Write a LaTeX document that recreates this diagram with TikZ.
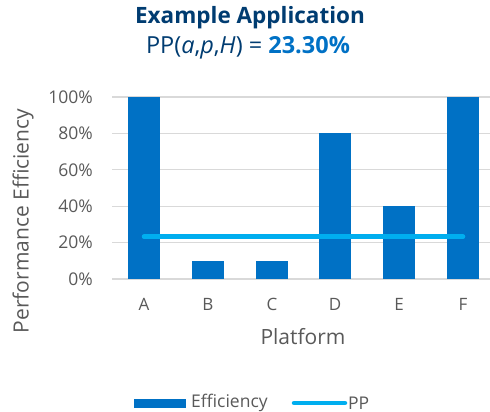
\documentclass[tikz,border=0pt]{standalone}
\usepackage{fontspec}
\setmainfont{Open Sans}
\definecolor{barblue}{HTML}{0071C5}
\definecolor{ppblue}{HTML}{00AEEF}
\definecolor{titleblue}{HTML}{003C71}
\definecolor{gridgrey}{HTML}{D9D9D9}
\definecolor{txtgrey}{HTML}{595959}
\tikzset{
  bar/.style={fill=barblue, draw=none},
  grid line/.style={draw=gridgrey, line width=1.2pt},
  tick label/.style={anchor=east, text=txtgrey, font=\fontsize{17.5}{20}\selectfont, inner sep=0pt},
  cat label/.style={anchor=center, text=txtgrey, font=\fontsize{17}{20}\selectfont, inner sep=0pt},
  axis title/.style={text=txtgrey, font=\fontsize{21}{24}\selectfont, inner sep=0pt},
  pp line/.style={draw=ppblue, line width=4.5pt, line cap=round},
  legend text/.style={anchor=west, text=txtgrey, font=\fontsize{17.5}{20}\selectfont, inner sep=0pt}
}
\begin{document}
\begin{tikzpicture}[x=1pt,y=-1pt]
\useasboundingbox (0,0) rectangle (490,412);
% title
\node[text=titleblue, font=\fontsize{22.5}{26}\selectfont\bfseries, inner sep=0pt] (t1) at (250,18) {Example Application};
\node[text=titleblue, font=\fontsize{23.5}{27}\selectfont, inner sep=0pt] (t2) at (248,48) {PP(\textit{a},\textit{p},\textit{H}) = \textcolor{barblue}{\bfseries 23.30\%}};
% gridlines and tick labels
\foreach \v/\lab in {0/0\%,20/20\%,40/40\%,60/60\%,80/80\%,100/100\%}{
  \coordinate (gl\v) at (112,{279-1.82*\v});
  \coordinate (gr\v) at (490,{279-1.82*\v});
  \draw[grid line] (gl\v) -- (gr\v);
  \node[tick label] (tl\v) at (93,{279-1.82*\v}) {\lab};
}
% bars
\foreach \n/\c/\v in {A/144/100,B/208/10,C/272/10,D/335/80,E/399/40,F/463/100}{
  \fill[bar] ({\c-16},279) rectangle ({\c+16},{279-1.82*\v});
  \node[cat label] (cat\n) at (\c,304) {\n};
}
% PP line
\coordinate (ppL) at (144,236.6);
\coordinate (ppR) at (463,236.6);
\draw[pp line] (ppL) -- (ppR);
% axis titles
\node[axis title] (xt) at (303,337) {Platform};
\node[axis title, rotate=90] (yt) at (23,221) {Performance Efficiency};
% legend
\fill[bar] (134,398.5) rectangle (186,407.5);
\node[legend text] (le) at (191,403) {Efficiency};
\coordinate (lpa) at (294,403);
\coordinate (lpb) at (345,403);
\draw[pp line] (lpa) -- (lpb);
\node[legend text] (lp) at (348,403) {PP};
\end{tikzpicture}
\end{document}
